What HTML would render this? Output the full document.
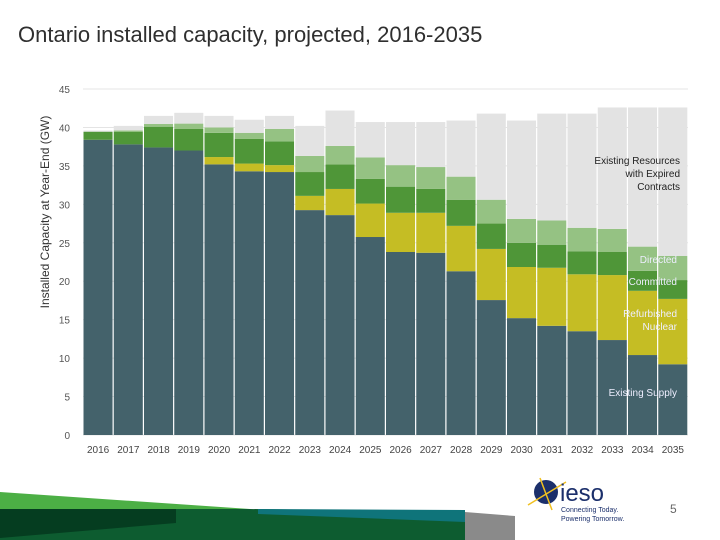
<!DOCTYPE html>
<html><head><meta charset="utf-8"><style>
body{margin:0;background:#fff;}
svg{display:block;font-family:"Liberation Sans",sans-serif;}
</style></head><body>
<svg id="c" width="720" height="540" viewBox="0 0 720 540" xmlns="http://www.w3.org/2000/svg">
<text x="18" y="42" font-size="22" fill="#2f2f2f">Ontario installed capacity, projected, 2016-2035</text>
<g id="grid"></g><g id="bars"></g><g id="axes"></g>
<text transform="translate(49,212) rotate(-90)" text-anchor="middle" font-size="12" fill="#333">Installed Capacity at Year-End (GW)</text>
<g font-size="10" text-anchor="end">
<text x="680" y="164" fill="#222">Existing Resources</text>
<text x="680" y="177" fill="#222">with Expired</text>
<text x="680" y="190" fill="#222">Contracts</text>
<text x="677" y="263" fill="#eef">Directed</text>
<text x="677" y="285" fill="#eef">Committed</text>
<text x="677" y="317" fill="#eef">Refurbished</text>
<text x="677" y="330" fill="#eef">Nuclear</text>
<text x="677" y="396" fill="#eef">Existing Supply</text>
</g>
<g>
<polygon points="0,492 250,509 0,509" fill="#4caf45"/>
<polygon points="250,509 465,512 465,540 0,540 0,509" fill="#0d5c30"/>
<polygon points="258,509 465,510 465,522 258,514" fill="#0f747a"/>
<polygon points="0,509 176,509 176,523 0,538" fill="#053d20"/>
<polygon points="465,512 515,516 515,540 465,540" fill="#8a8a8a"/>
</g>
<g>
<circle cx="546" cy="492" r="12" fill="#1b2f6b"/>
<path d="M528,505 L566,482 M540,478 L552,510" stroke="#f0c020" stroke-width="1.5"/>
<text x="560" y="501" font-size="24" fill="#1b2f6b">ieso</text>
<text x="561" y="512" font-size="7" fill="#1b2f6b">Connecting Today.</text>
<text x="561" y="521" font-size="7" fill="#1b2f6b">Powering Tomorrow.</text>
</g>
<text x="670" y="513" font-size="12" fill="#666">5</text>
</svg>
<script>
const years=["2016","2017","2018","2019","2020","2021","2022","2023","2024","2025","2026","2027","2028","2029","2030","2031","2032","2033","2034","2035"];
const existing=[38.4,37.8,37.4,37.0,35.2,34.3,34.2,29.25,28.6,25.75,23.8,23.7,21.3,17.55,15.2,14.2,13.5,12.35,10.4,9.2];
const refurbished=[0,0,0,0,0.95,1.0,0.9,1.85,3.4,4.35,5.1,5.2,5.9,6.65,6.65,7.55,7.4,8.45,8.35,8.5];
const committed=[1.05,1.65,2.7,2.8,3.15,3.2,3.1,3.1,3.2,3.2,3.4,3.1,3.4,3.3,3.15,3.0,3.0,3.0,2.6,2.45];
const directed=[0,0.15,0.35,0.7,0.7,0.8,1.6,2.1,2.4,2.8,2.8,2.85,3.0,3.1,3.1,3.15,3.05,3.0,3.15,3.15];
const expired=[0.15,0.6,1.05,1.4,1.5,1.7,1.7,3.9,4.6,4.6,5.6,5.85,7.3,11.2,12.8,13.9,14.85,15.8,18.1,19.3];
const yTicks=[0,5,10,15,20,25,30,35,40,45];
const NS="http://www.w3.org/2000/svg";
const x0=83,x1=688,y0=435,yTop=89,yMax=45;
const pitch=(x1-x0)/years.length;
function y(v){return y0-(v/yMax)*(y0-yTop);}
function xb(i){return x0+i*pitch;}
function mk(t,a,p){const e=document.createElementNS(NS,t);for(const k in a)e.setAttribute(k,a[k]);p.appendChild(e);return e;}
const grid=document.getElementById('grid'),bars=document.getElementById('bars'),axes=document.getElementById('axes');
yTicks.forEach(v=>{
 const l=mk('line',{x1:x0,x2:x1,y1:y(v),y2:y(v),stroke:'#e4e4e4','stroke-width':1},grid);
 
 
 const t=mk('text',{x:70,y:y(v)+4,'font-size':10,'text-anchor':'end',fill:'#555'},axes);
 t.textContent=v;
 
 
});
const series=[["existing",existing,"#44626b"],["refurbished",refurbished,"#c5bd24"],["committed",committed,"#4f9638"],["directed",directed,"#95c283"],["expired",expired,"#e3e3e3"]];
years.forEach((yr,i)=>{
 let base=0;
 series.forEach(([nm,arr,col])=>{
  const v=arr[i];
  const r=mk('rect',{x:xb(i)+0.5,y:y(base+v),width:pitch-1.2,height:Math.max(0,y(base)-y(base+v)),fill:col},bars);
  
  
  base+=v;
 });
 const t=mk('text',{x:xb(i)+pitch/2,y:453,'font-size':10,'text-anchor':'middle',fill:'#444'},axes);
 t.textContent=yr;
 
 
});
</script>
</body></html>
